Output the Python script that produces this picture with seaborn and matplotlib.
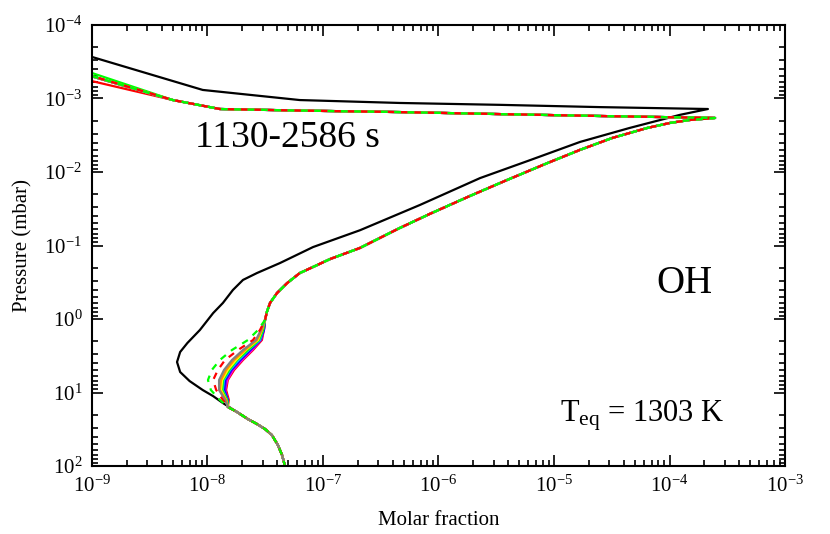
import seaborn as sns
import matplotlib.pyplot as plt

sns.set_style("ticks")
plt.rcParams['font.family'] = ['Liberation Serif', 'DejaVu Serif']
plt.rcParams['mathtext.fontset'] = 'stix'
plt.rcParams['text.color'] = 'black'
plt.rcParams['axes.labelcolor'] = 'black'
plt.rcParams['xtick.color'] = 'black'
plt.rcParams['ytick.color'] = 'black'

# shared upper part of the coloured profiles (after the left edge point)
upper_x = [5.02e-9, 1.28e-8, 6.3e-8, 4.6e-7, 3.4e-6, 2.5e-5, 2.48e-4,
           1.50e-4, 1.01e-4, 6.4e-5, 3.2e-5, 1.68e-5, 8.7e-6, 3.9e-6, 1.87e-6,
           8.4e-7, 4.6e-7, 2.09e-7, 1.15e-7, 8.2e-8, 6.3e-8, 4.9e-8, 4.0e-8,
           3.48e-8, 3.27e-8, 3.15e-8]
upper_p = [1.05e-3, 1.39e-3, 1.46e-3, 1.53e-3, 1.63e-3, 1.73e-3, 1.84e-3,
           1.96e-3, 2.15e-3, 2.52e-3, 3.44e-3, 5.0e-3, 7.6e-3, 1.29e-2, 2.12e-2,
           3.72e-2, 5.8e-2, 0.108, 0.153, 0.196, 0.237, 0.324, 0.443,
           0.605, 0.80, 1.03]

# the "nose" near 10 mbar where the runs spread apart
nose_p = [1.41, 1.93, 2.64, 3.61, 4.94, 6.76, 9.25, 12.6]

# shared deep part
lower_x = [1.50e-8, 1.80e-8, 2.24e-8, 2.68e-8, 3.15e-8, 3.61e-8, 4.07e-8, 4.42e-8, 4.69e-8]
lower_p = [15.7, 18.4, 23.0, 26.8, 31.4, 37.9, 51.8, 70.8, 100.0]

# runs: colour, pressure at x = 1e-9, nose abundances
run_colors = ['red', 'magenta', 'darkviolet', 'blue', 'deepskyblue',
              'lime', 'yellow', 'darkorange', 'grey']
run_top_p = [5.8e-4, 5.0e-4, 5.0e-4, 5.0e-4, 5.0e-4, 4.5e-4, 5.0e-4, 5.0e-4, 5.0e-4]
run_nose_x = [
    [3.08e-8, 2.96e-8, 2.48e-8, 2.03e-8, 1.70e-8, 1.50e-8, 1.45e-8, 1.53e-8],
    [3.08e-8, 2.90e-8, 2.43e-8, 1.99e-8, 1.66e-8, 1.48e-8, 1.42e-8, 1.50e-8],
    [3.08e-8, 2.90e-8, 2.38e-8, 1.95e-8, 1.63e-8, 1.45e-8, 1.42e-8, 1.50e-8],
    [3.08e-8, 2.85e-8, 2.33e-8, 1.91e-8, 1.60e-8, 1.42e-8, 1.39e-8, 1.50e-8],
    [3.03e-8, 2.85e-8, 2.28e-8, 1.87e-8, 1.57e-8, 1.39e-8, 1.36e-8, 1.48e-8],
    [3.03e-8, 2.79e-8, 2.24e-8, 1.80e-8, 1.54e-8, 1.36e-8, 1.34e-8, 1.48e-8],
    [2.96e-8, 2.74e-8, 2.15e-8, 1.77e-8, 1.50e-8, 1.34e-8, 1.31e-8, 1.45e-8],
    [2.96e-8, 2.68e-8, 2.11e-8, 1.70e-8, 1.45e-8, 1.31e-8, 1.28e-8, 1.45e-8],
    [2.90e-8, 2.63e-8, 2.03e-8, 1.63e-8, 1.39e-8, 1.26e-8, 1.26e-8, 1.42e-8],
]

# dashed runs
dash_colors = ['red', 'lime']
dash_top_p = [4.94e-4, 4.94e-4]
dash_nose_x = [
    [2.85e-8, 2.48e-8, 1.84e-8, 1.42e-8, 1.23e-8, 1.12e-8, 1.19e-8, 1.36e-8],
    [2.74e-8, 2.24e-8, 1.63e-8, 1.28e-8, 1.09e-8, 1.01e-8, 1.07e-8, 1.28e-8],
]

# black reference profile
black_x = [1e-9, 9.1e-9, 6.3e-8, 4.6e-7, 3.4e-6, 2.5e-5, 2.15e-4, 1.23e-4, 4.5e-5,
           1.68e-5, 6.2e-6, 2.29e-6, 6.9e-7, 2.09e-7, 8.2e-8, 4.25e-8, 2.68e-8,
           2.03e-8, 1.66e-8, 1.36e-8, 1.12e-8, 8.6e-9, 6.7e-9, 5.8e-9, 5.45e-9,
           5.8e-9, 7.0e-9, 9.1e-9, 1.12e-8, 1.36e-8, 1.80e-8, 2.24e-8, 2.68e-8,
           3.15e-8, 3.61e-8, 4.07e-8, 4.42e-8, 4.69e-8]
black_p = [2.72e-4, 7.65e-4, 1.05e-3, 1.15e-3, 1.22e-3, 1.31e-3, 1.39e-3, 1.67e-3, 2.52e-3,
           3.9e-3, 6.9e-3, 1.21e-2, 2.81e-2, 6.2e-2, 0.105, 0.173, 0.237,
           0.294, 0.403, 0.605, 0.83, 1.41, 2.12, 2.81, 3.85,
           5.26, 6.98, 9.25, 11.2, 13.9, 18.4, 23.0, 26.8,
           31.4, 37.9, 51.8, 70.8, 100.0]

fig = plt.figure(figsize=(8.3, 5.34), dpi=100)
ax = fig.add_axes([0.1108, 0.1273, 0.8350, 0.8259])
ax.set_xscale('log')
ax.set_yscale('log')

lw = 1.6
opts = dict(sort=False, estimator=None, errorbar=None, lw=lw, ax=ax)
sns.lineplot(x=black_x, y=black_p, color='black', **opts)

for c, tp, nx in zip(run_colors, run_top_p, run_nose_x):
    xs = [1e-9] + upper_x + nx + lower_x
    ps = [tp] + upper_p + nose_p + lower_p
    sns.lineplot(x=xs, y=ps, color=c, **opts)

for c, tp, nx, off in zip(dash_colors, dash_top_p, dash_nose_x, [3, 0]):
    xs = [1e-9] + upper_x + nx + lower_x
    ps = [tp] + upper_p + nose_p + lower_p
    sns.lineplot(x=xs, y=ps, color=c, linestyle=(off, (3, 3)), **opts)

ax.set_xlim(1e-9, 1e-3)
ax.set_ylim(1e2, 1e-4)

ax.set_xlabel('Molar fraction', fontsize=15, labelpad=10)
ax.set_ylabel('Pressure (mbar)', fontsize=15, labelpad=8)

ax.tick_params(which='both', direction='in', top=True, right=True,
               labelsize=15, width=1.2, color='black')
ax.tick_params(which='major', length=8, pad=7)
ax.tick_params(which='minor', length=4)
for s in ax.spines.values():
    s.set_linewidth(1.5)
    s.set_color('black')

ax.text(0.149, 0.723, '1130-2586 s', transform=ax.transAxes, fontsize=27,
        ha='left', va='baseline')
ax.text(0.815, 0.392, 'OH', transform=ax.transAxes, fontsize=28,
        ha='left', va='baseline')
ax.text(0.675, 0.100, r'$\mathregular{T_{eq}}$ = 1303 K', transform=ax.transAxes,
        fontsize=22, ha='left', va='baseline')

fig.savefig('out.png', dpi=100)
